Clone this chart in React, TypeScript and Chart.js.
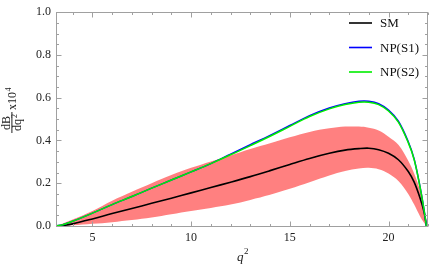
import React, { useEffect, useRef } from "react";
import { Chart, registerables } from "chart.js";

Chart.register(...registerables);

// q^2 grid (GeV^2)
const q2 = [3.157, 3.5, 4, 5, 6, 7, 8, 9, 10, 11, 12, 13, 14, 15, 16, 17, 17.8, 18.5, 19, 19.5, 20, 20.5, 21, 21.3, 21.6, 21.8, 21.92];

// dB/dq^2 x 10^4
const smValues = [0, 0.002, 0.01, 0.033, 0.058, 0.082, 0.106, 0.13, 0.155, 0.18, 0.205, 0.231, 0.259, 0.288, 0.316, 0.34, 0.355, 0.362, 0.364, 0.357, 0.34, 0.31, 0.255, 0.205, 0.13, 0.065, 0];
const np1Values = [0, 0.006, 0.022, 0.06, 0.1, 0.138, 0.177, 0.215, 0.253, 0.292, 0.336, 0.38, 0.424, 0.47, 0.516, 0.552, 0.572, 0.583, 0.583, 0.572, 0.542, 0.49, 0.394, 0.313, 0.182, 0.076, 0];
const np2Values = [0, 0.006, 0.022, 0.06, 0.1, 0.138, 0.177, 0.215, 0.253, 0.292, 0.333, 0.376, 0.42, 0.466, 0.512, 0.548, 0.568, 0.579, 0.579, 0.568, 0.538, 0.486, 0.39, 0.31, 0.18, 0.075, 0];
const smUpper = [0, 0.012, 0.03, 0.07, 0.118, 0.16, 0.2, 0.238, 0.272, 0.302, 0.33, 0.36, 0.387, 0.415, 0.44, 0.457, 0.465, 0.465, 0.46, 0.447, 0.418, 0.38, 0.305, 0.245, 0.165, 0.08, 0];
const smLower = [0, 0.001, 0.003, 0.01, 0.018, 0.028, 0.04, 0.055, 0.07, 0.084, 0.1, 0.122, 0.146, 0.174, 0.205, 0.236, 0.257, 0.269, 0.272, 0.265, 0.245, 0.21, 0.15, 0.1, 0.045, 0.015, 0];

const xTickValues = [5, 10, 15, 20];
const xMinorTickValues = [4, 6, 7, 8, 9, 11, 12, 13, 14, 16, 17, 18, 19, 21, 22];
const yTickValues = [0, 0.2, 0.4, 0.6, 0.8, 1.0];
const yMinorTickValues = [0.05, 0.1, 0.15, 0.25, 0.3, 0.35, 0.45, 0.5, 0.55, 0.65, 0.7, 0.75, 0.85, 0.9, 0.95];

const legendLabels = ["SM", "NP(S1)", "NP(S2)"];
const legendColors = ["#000000", "#0000ff", "#00ee00"];

const SERIF = '"Liberation Serif", "Times New Roman", serif';
const FRAME = "#a0a0a0";

function pts(ys: number[]) {
  return q2.map((x, i) => ({ x, y: ys[i] }));
}

const decorPlugin = {
  id: "decor",
  afterDatasetsDraw(chart: any) {
    const { ctx, chartArea } = chart;
    const { left, right, top, bottom } = chartArea;
    const xs = chart.scales.x;
    const ys = chart.scales.y;
    ctx.save();
    ctx.strokeStyle = FRAME;
    ctx.lineWidth = 1;
    ctx.strokeRect(Math.round(left) + 0.5, Math.round(top) + 0.5, Math.round(right - left) - 1, Math.round(bottom - top));
    const tick = (x1: number, y1: number, x2: number, y2: number) => {
      ctx.beginPath();
      ctx.moveTo(x1, y1);
      ctx.lineTo(x2, y2);
      ctx.stroke();
    };
    const bx = Math.round(bottom) + 0.5;
    const tx = Math.round(top) + 0.5;
    xTickValues.forEach((v) => {
      const p = Math.round(xs.getPixelForValue(v)) + 0.5;
      tick(p, bx, p, bx - 5);
      tick(p, tx, p, tx + 5);
    });
    xMinorTickValues.forEach((v) => {
      const p = Math.round(xs.getPixelForValue(v)) + 0.5;
      tick(p, bx, p, bx - 2.5);
      tick(p, tx, p, tx + 2.5);
    });
    const lx = Math.round(left) + 0.5;
    const rx = Math.round(right) - 0.5;
    yTickValues.forEach((v) => {
      const p = Math.round(ys.getPixelForValue(v)) + 0.5;
      tick(lx, p, lx + 5, p);
      tick(rx, p, rx - 5, p);
    });
    yMinorTickValues.forEach((v) => {
      const p = Math.round(ys.getPixelForValue(v)) + 0.5;
      tick(lx, p, lx + 2.5, p);
      tick(rx, p, rx - 2.5, p);
    });

    // legend
    ctx.font = `13px ${SERIF}`;
    ctx.textBaseline = "middle";
    ctx.textAlign = "left";
    legendLabels.forEach((lab, i) => {
      const y = 23 + i * 24.5;
      ctx.strokeStyle = legendColors[i];
      ctx.lineWidth = 1.6;
      tick(349, y, 372, y);
      ctx.fillStyle = "#111";
      ctx.fillText(lab, 380, y + 1);
    });

    // x title: q^2
    ctx.fillStyle = "#222";
    ctx.textBaseline = "alphabetic";
    ctx.font = `italic 13px ${SERIF}`;
    ctx.textAlign = "left";
    const qx = (left + right) / 2 - 5;
    ctx.fillText("q", qx, 261);
    ctx.font = `9px ${SERIF}`;
    ctx.fillText("2", qx + 7, 254);

    // y title: dB/dq^2 x10^4 rotated
    ctx.translate(12, 122);
    ctx.rotate(-Math.PI / 2);
    ctx.font = `12px ${SERIF}`;
    ctx.textAlign = "center";
    ctx.fillText("dB", -1, -2.5);
    ctx.fillRect(-11, -0.6, 21, 1);
    ctx.fillText("dq", -3, 9);
    ctx.font = `8px ${SERIF}`;
    ctx.fillText("2", 6, 4.5);
    ctx.textAlign = "left";
    ctx.font = `12px ${SERIF}`;
    ctx.fillText("x10", 12, 4);
    const w = ctx.measureText("x10").width;
    ctx.font = `8px ${SERIF}`;
    ctx.fillText("4", 12 + w + 0.5, -1.5);
    ctx.restore();
  },
};

export default function App() {
  const ref = useRef<HTMLCanvasElement | null>(null);
  useEffect(() => {
    if (!ref.current) return;
    const line = (label: string, data: number[], color: string, width: number, order: number) => ({
      label,
      data: pts(data),
      borderColor: color,
      backgroundColor: color,
      borderWidth: width,
      pointRadius: 0,
      fill: false,
      tension: 0.35,
      order,
    });
    const chart = new Chart(ref.current, {
      type: "line",
      data: {
        datasets: [
          line("NP(S2)", np2Values, "#00ee00", 1.5, 0),
          line("NP(S1)", np1Values, "#0000ff", 1.5, 1),
          line("SM", smValues, "#000000", 1.6, 2),
          {
            label: "SM upper",
            data: pts(smUpper),
            borderWidth: 0,
            borderColor: "rgba(0,0,0,0)",
            backgroundColor: "rgb(255,128,128)",
            pointRadius: 0,
            fill: "+1",
            tension: 0.35,
            order: 3,
          },
          {
            label: "SM lower",
            data: pts(smLower),
            borderWidth: 0,
            borderColor: "rgba(0,0,0,0)",
            backgroundColor: "rgb(255,128,128)",
            pointRadius: 0,
            fill: false,
            tension: 0.35,
            order: 4,
          },
        ],
      },
      options: {
        animation: false,
        responsive: false,
        maintainAspectRatio: false,
        layout: { padding: { top: 6, right: 1, left: 0, bottom: 0 } },
        plugins: { legend: { display: false }, tooltip: { enabled: false } },
        scales: {
          x: {
            type: "linear",
            min: 3.157,
            max: 22,
            grid: { display: false, drawTicks: false },
            border: { display: false },
            afterBuildTicks: (s: any) => {
              s.ticks = xTickValues.map((v) => ({ value: v }));
            },
            afterFit: (s: any) => {
              s.height = 40;
            },
            ticks: {
              font: { family: SERIF, size: 12 },
              color: "#222",
              padding: 5,
              maxRotation: 0,
              autoSkip: false,
              callback: (v: any) => String(v),
            },
          },
          y: {
            type: "linear",
            min: 0,
            max: 1,
            grid: { display: false, drawTicks: false },
            border: { display: false },
            afterBuildTicks: (s: any) => {
              s.ticks = yTickValues.map((v) => ({ value: v }));
            },
            afterFit: (s: any) => {
              s.width = 56;
            },
            ticks: {
              font: { family: SERIF, size: 12 },
              color: "#222",
              padding: 5,
              autoSkip: false,
              callback: (v: any) => Number(v).toFixed(1),
            },
          },
        },
      },
      plugins: [decorPlugin],
    });
    return () => chart.destroy();
  }, []);
  return (
    <div style={{ position: "fixed", left: 0, top: 0, width: 429, height: 266, background: "#fff" }}>
      <canvas ref={ref} width={429} height={266} style={{ width: 429, height: 266, display: "block" }} />
    </div>
  );
}
